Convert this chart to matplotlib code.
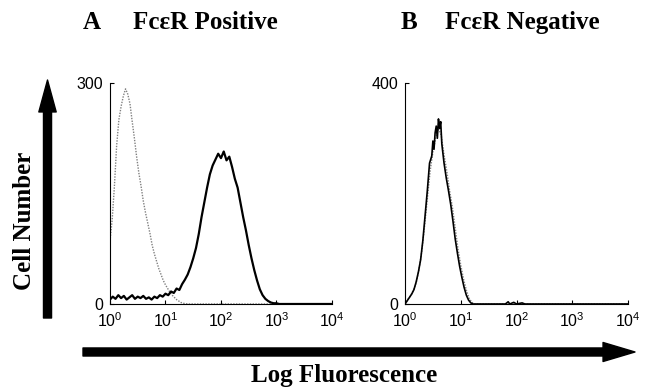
import numpy as np
import matplotlib
matplotlib.use("Agg")
import matplotlib.pyplot as plt
from matplotlib.patches import FancyArrowPatch

# =========================
# DATA
# =========================
# panel A, FcER positive cells: stained (solid) and control (dotted)
a_solid_log = [0.00, 0.05, 0.10, 0.15, 0.20, 0.25, 0.30, 0.35, 0.40, 0.45,
               0.50, 0.55, 0.60, 0.65, 0.70, 0.75, 0.80, 0.85, 0.90, 0.95,
               1.00, 1.05, 1.10, 1.15, 1.20, 1.25, 1.30, 1.35, 1.40, 1.45,
               1.50, 1.55, 1.60, 1.65, 1.70, 1.75, 1.80, 1.85, 1.90, 1.95,
               2.00, 2.05, 2.10, 2.15, 2.20, 2.25, 2.30, 2.35, 2.40, 2.45,
               2.50, 2.55, 2.60, 2.65, 2.70, 2.75, 2.80, 2.85, 2.90, 2.95,
               3.00, 3.05, 3.50, 4.00]
a_solid_cnt = [6, 10, 7, 12, 8, 11, 6, 9, 12, 7,
               10, 8, 11, 7, 9, 6, 10, 8, 12, 10,
               14, 12, 17, 15, 21, 19, 27, 33, 40, 50,
               62, 76, 95, 118, 138, 158, 176, 188, 196, 204,
               198, 207, 195, 200, 186, 170, 158, 138, 118, 100,
               80, 62, 46, 32, 20, 12, 7, 4, 2, 1,
               1, 0, 0, 0]

a_ctrl_log = [0.00, 0.04, 0.08, 0.12, 0.16, 0.20, 0.24, 0.28, 0.32, 0.36,
              0.40, 0.44, 0.48, 0.52, 0.56, 0.60, 0.64, 0.68, 0.72, 0.76,
              0.80, 0.84, 0.88, 0.92, 0.96, 1.00, 1.04, 1.08, 1.12, 1.16,
              1.20, 1.24, 1.28, 1.32, 1.40, 4.00]
a_ctrl_cnt = [85, 115, 160, 215, 250, 268, 282, 292, 285, 272,
              248, 225, 200, 178, 160, 140, 124, 110, 96, 80,
              68, 58, 48, 40, 32, 26, 21, 16, 12, 9,
              6, 4, 2, 1, 0, 0]

# panel B, FcER negative cells
b_solid_log = [0.00, 0.04, 0.08, 0.12, 0.16, 0.20, 0.24, 0.28, 0.32, 0.36,
               0.40, 0.44, 0.48, 0.50, 0.52, 0.54, 0.56, 0.58, 0.60, 0.62,
               0.64, 0.66, 0.70, 0.74, 0.78, 0.82, 0.86, 0.90, 0.94, 0.98,
               1.02, 1.06, 1.10, 1.14, 1.18, 1.22, 1.80, 1.85, 1.88, 1.95,
               2.00, 2.10, 2.15, 4.00]
b_solid_cnt = [0, 6, 12, 18, 26, 40, 58, 80, 115, 160,
               205, 255, 268, 295, 280, 310, 322, 300, 335, 318,
               330, 290, 255, 228, 205, 180, 150, 118, 92, 68,
               48, 30, 16, 7, 2, 0, 0, 4, 0, 3,
               0, 2, 0, 0]

b_ctrl_log = [0.00, 0.05, 0.10, 0.15, 0.20, 0.25, 0.30, 0.35, 0.40, 0.45,
              0.50, 0.55, 0.60, 0.65, 0.70, 0.75, 0.80, 0.85, 0.90, 0.95,
              1.00, 1.05, 1.10, 1.15, 1.20, 1.25, 4.00]
b_ctrl_cnt = [0, 8, 15, 25, 38, 62, 95, 140, 190, 240,
              275, 300, 318, 305, 270, 240, 205, 175, 138, 100,
              70, 45, 25, 10, 3, 0, 0]

decades = [1, 10, 100, 1000, 10000]
xtick_labels = [r"$10^{0}$", r"$10^{1}$", r"$10^{2}$", r"$10^{3}$",
                r"$10^{4}$"]

plt.rcParams["font.family"] = ["Liberation Sans", "DejaVu Sans"]
plt.rcParams["mathtext.fontset"] = "custom"
plt.rcParams["mathtext.rm"] = "Liberation Sans"
plt.rcParams["mathtext.it"] = "Liberation Sans"
serif = ["Liberation Serif", "DejaVu Serif"]

fig = plt.figure(figsize=(6.5, 3.88), dpi=100)


def panel(rect, ymax, solid_log, solid_cnt, ctrl_log, ctrl_cnt, lw):
    ax = fig.add_axes(rect)
    ax.plot(10 ** np.array(ctrl_log), ctrl_cnt, color="#808080", lw=1.0,
            ls=(0, (1, 1)))
    ax.plot(10 ** np.array(solid_log), solid_cnt, color="black", lw=lw)
    ax.set_xscale("log")
    ax.set_xlim(1, 10000)
    ax.set_ylim(0, ymax)
    ax.set_xticks(decades, labels=xtick_labels)
    ax.xaxis.set_minor_locator(matplotlib.ticker.NullLocator())
    ax.set_yticks([0, ymax], labels=["0", str(ymax)])
    ax.tick_params(direction="in", length=3, width=0.8, labelsize=11.5,
                   color="black", pad=5)
    for s in ["top", "right"]:
        ax.spines[s].set_visible(False)
    for s in ["left", "bottom"]:
        ax.spines[s].set_linewidth(0.8)
    return ax


panel([0.1692, 0.2165, 0.3415, 0.5696], 300,
      a_solid_log, a_solid_cnt, a_ctrl_log, a_ctrl_cnt, 1.6)
panel([0.6231, 0.2165, 0.3431, 0.5696], 400,
      b_solid_log, b_solid_cnt, b_ctrl_log, b_ctrl_cnt, 1.2)

# panel titles
fig.text(0.1277, 0.925, "A", family=serif, weight="bold", size=18, va="baseline")
fig.text(0.2046, 0.925, "FcεR Positive", family=serif, weight="bold", size=18,
         va="baseline")
fig.text(0.617, 0.925, "B", family=serif, weight="bold", size=18, va="baseline")
fig.text(0.684, 0.925, "FcεR Negative", family=serif, weight="bold", size=18,
         va="baseline")

# shared axis arrows and labels
fig.patches.append(FancyArrowPatch(
    (0.0731, 0.1804), (0.0731, 0.7938), transform=fig.transFigure,
    arrowstyle="simple,head_length=23,head_width=12.5,tail_width=5.8",
    mutation_scale=1, shrinkA=0, shrinkB=0, color="black"))
fig.patches.append(FancyArrowPatch(
    (0.1277, 0.0928), (0.9769, 0.0928), transform=fig.transFigure,
    arrowstyle="simple,head_length=23,head_width=13.7,tail_width=5.8",
    mutation_scale=1, shrinkA=0, shrinkB=0, color="black"))

fig.text(0.037, 0.430, "Cell Number", family=serif, weight="bold", size=18,
         rotation=90, ha="center", va="center")
fig.text(0.530, 0.0155, "Log Fluorescence", family=serif, weight="bold",
         size=18, ha="center", va="baseline")

fig.savefig("out.png", dpi=100)
